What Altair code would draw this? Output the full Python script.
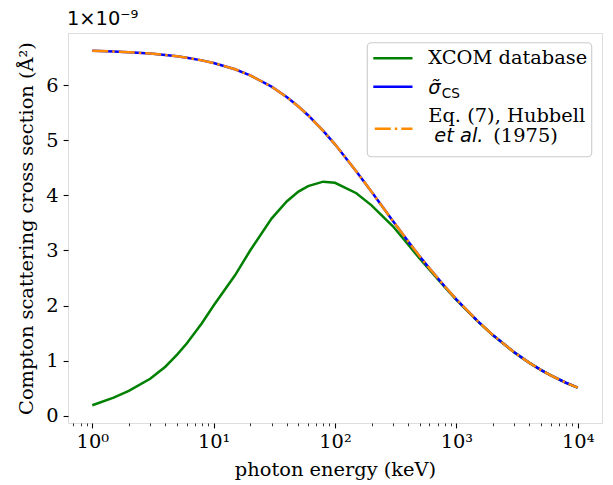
import altair as alt
import pandas as pd

# ---------------- data (cross sections in units of 1e-9 Å²) ----------------
energy_keV = [1, 1.5, 2, 3, 4, 5, 6, 8, 10, 15, 20, 30, 40, 50, 60, 80, 100,
              150, 200, 300, 400, 500, 600, 800, 1000, 1500, 2000, 3000, 4000,
              5000, 6000, 8000, 10000]
xcom_db = [0.19, 0.33, 0.45, 0.67, 0.89, 1.11, 1.31, 1.68, 2.00, 2.55, 3.00,
           3.58, 3.89, 4.07, 4.17, 4.25, 4.23, 4.04, 3.82, 3.44, 3.11, 2.85,
           2.65, 2.34, 2.105, 1.713, 1.462, 1.150, 0.959, 0.828, 0.732, 0.598,
           0.510]
sigma_cs = [6.627, 6.614, 6.601, 6.576, 6.550, 6.526, 6.501, 6.452, 6.405,
            6.290, 6.180, 5.975, 5.787, 5.615, 5.456, 5.173, 4.928, 4.436,
            4.065, 3.535, 3.167, 2.892, 2.675, 2.350, 2.112, 1.716, 1.464,
            1.151, 0.960, 0.829, 0.732, 0.599, 0.510]
hubbell_eq7 = [6.627, 6.614, 6.601, 6.576, 6.550, 6.526, 6.501, 6.452, 6.405,
               6.290, 6.180, 5.975, 5.787, 5.615, 5.456, 5.173, 4.928, 4.436,
               4.065, 3.535, 3.167, 2.892, 2.675, 2.350, 2.112, 1.716, 1.464,
               1.151, 0.960, 0.829, 0.732, 0.599, 0.510]

series_names = ["XCOM database", "sigma_CS", "Hubbell Eq. (7)"]
series_colors = ["#008000", "#0000ff", "#ff8c00"]

major_ticks = [1, 10, 100, 1000, 10000]
major_labels = ["10⁰", "10¹", "10²", "10³", "10⁴"]
minor_mults = [2, 3, 4, 5, 6, 7, 8, 9]
minor_ticks = [0.7, 0.8, 0.9] + [m * d for d in [1, 10, 100, 1000] for m in minor_mults]
y_ticks = [0, 1, 2, 3, 4, 5, 6]
offset_text = "1×10⁻⁹"

# ---------------- build table ----------------
rows = []
for name, vals in zip(series_names, [xcom_db, sigma_cs, hubbell_eq7]):
    for e, v in zip(energy_keV, vals):
        rows.append({"energy": e, "value": v, "series": name})
df = pd.DataFrame(rows)

W, H = 534, 390
FS = 19.4
SERIF = "DejaVu Serif"
SANS = "DejaVu Sans"

major_test = "abs(log(datum.value)/LN10 - round(log(datum.value)/LN10)) < 0.001"
label_expr = " : ".join(
    [f"datum.value == {v} ? '{l}'" for v, l in zip(major_ticks, major_labels)]
) + " : ''"

x_axis = alt.Axis(
    values=sorted(major_ticks + minor_ticks),
    labelExpr=label_expr,
    tickSize={"condition": {"test": major_test, "value": 4.9}, "value": 2.8},
    tickWidth={"condition": {"test": major_test, "value": 1.1}, "value": 0.8},
    tickColor="black",
    domain=False,
    grid=False,
    labelFont=SERIF,
    labelFontSize=FS,
    labelColor="black",
    labelPadding=5,
    labelOverlap=False,
    labelFlush=False,
    title="photon energy (keV)",
    titleFont=SERIF,
    titleFontSize=FS,
    titleFontWeight="normal",
    titleColor="black",
    titleY=52.3,
    titleBaseline="alphabetic",
)
y_axis = alt.Axis(
    values=y_ticks,
    format="d",
    tickSize=4.9,
    tickWidth=1.1,
    tickColor="black",
    domain=False,
    grid=False,
    labelFont=SERIF,
    labelFontSize=FS,
    labelColor="black",
    labelPadding=4.9,
    title="Compton scattering cross section (Å²)",
    titleFont=SERIF,
    titleFontSize=FS,
    titleFontWeight="normal",
    titleColor="black",
    titleX=-35.5,
    titleY=H / 2,
    titleAngle=270,
    titleAlign="center",
    titleBaseline="alphabetic",
)

x_enc = alt.X("energy:Q", scale=alt.Scale(type="log", domain=[10 ** -0.2, 10 ** 4.2], nice=False), axis=x_axis)
y_enc = alt.Y("value:Q", scale=alt.Scale(domain=[-0.132, 6.949], nice=False, zero=False), axis=y_axis)

LW = 2.5
green = alt.Chart(df).transform_filter(alt.datum.series == series_names[0]).mark_line(
    color=series_colors[0], strokeWidth=LW).encode(x=x_enc, y=y_enc)
blue = alt.Chart(df).transform_filter(alt.datum.series == series_names[1]).mark_line(
    color=series_colors[1], strokeWidth=LW).encode(x=x_enc, y=y_enc)
DASH = [16, 4, 2.5, 4]
orange = alt.Chart(df).transform_filter(alt.datum.series == series_names[2]).mark_line(
    color=series_colors[2], strokeWidth=LW, strokeDash=DASH, strokeCap="butt").encode(x=x_enc, y=y_enc)

one = pd.DataFrame({"k": [0]})

offset = alt.Chart(one).mark_text(font=SANS, fontSize=FS, align="left", baseline="alphabetic",
                                  color="black").encode(
    x=alt.value(-1), y=alt.value(-8), text=alt.value(offset_text))

# ---------------- legend (drawn by hand) ----------------
box = alt.Chart(one).mark_rect(cornerRadius=4, fill="white", fillOpacity=0.8,
                               stroke="#cccccc", strokeWidth=1.1).encode(
    x=alt.value(299.3), x2=alt.value(523.7), y=alt.value(9.7), y2=alt.value(123.7))

hx1, hx2, tx = 305.3, 344.5, 360.3
h1 = alt.Chart(one).mark_rule(color=series_colors[0], strokeWidth=LW).encode(
    x=alt.value(hx1), x2=alt.value(hx2), y=alt.value(25.3))
h2 = alt.Chart(one).mark_rule(color=series_colors[1], strokeWidth=LW).encode(
    x=alt.value(hx1), x2=alt.value(hx2), y=alt.value(53.7))
h3 = alt.Chart(one).mark_rule(color=series_colors[2], strokeWidth=LW, strokeDash=DASH,
                              strokeCap="butt").encode(
    x=alt.value(hx1 + 1.5), x2=alt.value(hx2), y=alt.value(95.7))

def txt(s, x, y, font=SERIF, size=FS, style="normal"):
    return alt.Chart(one).mark_text(font=font, fontSize=size, fontStyle=style, align="left",
                                    baseline="middle", color="black").encode(
        x=alt.value(x), y=alt.value(y), text=alt.value(s))

t1 = txt("XCOM database", tx, 24.5)
t2a = txt("σ̃", tx, 54.5, font=SANS, style="italic")
t2b = txt("CS", tx + 13.5, 60.5, font=SANS, size=13.6)
t3a = txt("Eq. (7), Hubbell", tx, 82.7)
t3b = txt("et al.", tx + 6, 103.0, font=SANS, style="italic")
t3c = txt("(1975)", 425.3, 103.0)

chart = alt.layer(
    green, blue, orange, offset, box, h1, h2, h3, t1, t2a, t2b, t3a, t3b, t3c
).properties(
    width=W, height=H,
    autosize=alt.AutoSizeParams(type="none"),
    padding={"left": 68, "top": 33, "right": 11, "bottom": 62},
).configure_view(
    stroke="black", strokeWidth=1.1
).configure(background="white")

chart.save("out.html", embed_options={"renderer": "svg", "actions": False})
